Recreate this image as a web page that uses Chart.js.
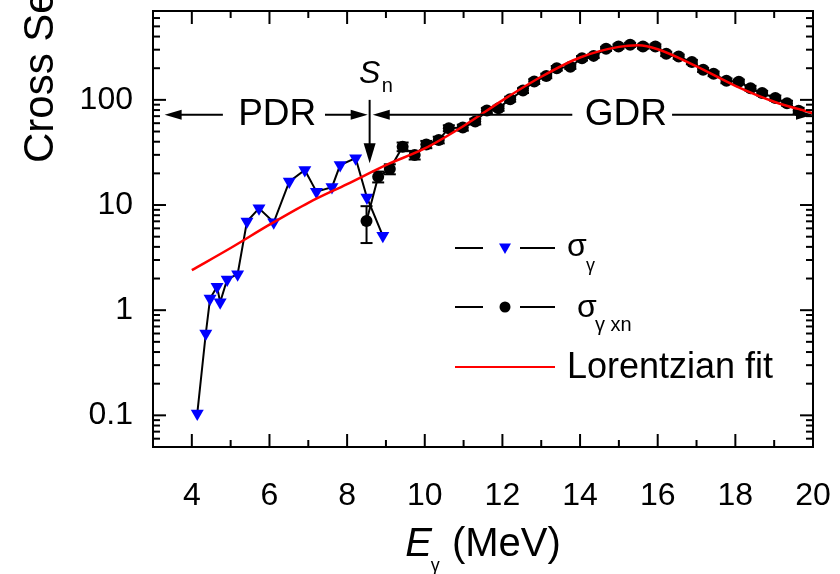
<!DOCTYPE html>
<html>
<head>
<meta charset="utf-8">
<script src="https://cdn.jsdelivr.net/npm/chart.js@4.4.0/dist/chart.umd.min.js"></script>
<style>
  html, body { margin: 0; padding: 0; background: #fff; }
  canvas { display: block; }
</style>
</head>
<body>
<canvas id="gdrChart" width="840" height="574"></canvas>
<script>
const FONT = "'Liberation Sans', Arial, sans-serif";

// sigma_gamma below Sn (blue triangles)
const gammaE = [4.14, 4.36, 4.47, 4.65, 4.73, 4.91, 5.18, 5.42, 5.73, 6.11, 6.51, 6.91, 7.21, 7.61, 7.82, 8.22, 8.51, 8.92];
const gammaSigma = [0.104, 0.60, 1.29, 1.67, 1.19, 1.96, 2.2, 6.97, 9.3, 6.86, 16.7, 21.5, 13.4, 14.8, 24, 27.9, 11.8, 5.1];

// sigma_gamma,xn above Sn (black circles) with error bars
const xnE = [8.50, 8.80, 9.10, 9.43, 9.74, 10.04, 10.36, 10.62, 10.98, 11.30, 11.60, 11.90, 12.20, 12.53, 12.82, 13.13, 13.40, 13.75, 14.05, 14.35, 14.67, 14.99, 15.29, 15.62, 15.94, 16.22, 16.54, 16.88, 17.17, 17.44, 17.77, 18.09, 18.39, 18.69, 19.03, 19.33, 19.63];
const xnSigma = [7.05, 18.6, 22.0, 35.9, 29.9, 37.7, 41.6, 53.8, 54.5, 62.2, 79.1, 83.4, 101.6, 122.7, 149.5, 169, 200, 207, 249, 262, 306, 322, 334, 322, 322, 274, 258, 229, 193, 177, 152, 149, 129, 116, 104, 93, 79];
const xnErr = [2.7, 2.2, 2.4, 3.4, 2.8, 3.0, 3.0, 3.5, 3.5, 3.8, 4.5, 4.6, 5.5, 6.5, 7.8, 8.5, 10, 10, 12, 12, 14, 15, 15, 15, 15, 13, 12, 11, 9, 9, 8, 7, 7, 6, 6, 5, 5];

// Lorentzian fit (red line)
const fitE = [4.0, 5.0, 6.0, 7.0, 8.0, 9.0, 10.0, 11.0, 12.0, 13.0, 14.0, 15.0, 15.5, 16.0, 17.0, 18.0, 19.0, 20.0];
const fitSigma = [2.4, 3.9, 6.5, 10.5, 15.8, 24, 34.5, 56.5, 99, 166, 253, 319, 330, 303, 208, 136, 96, 74.6];

// axes
const xTickLabels = [4, 6, 8, 10, 12, 14, 16, 18, 20];
const xMinorTicks = [5, 7, 9, 11, 13, 15, 17, 19];
const yTickLabels = [0.1, 1, 10, 100];

// annotations, in data units
const arrowSigma = 72;
const snE = 8.58;
const pdrNote = { tip: 3.3, lineEnd: 4.8, textE: 6.2, lineStart: 7.43, tipRight: 8.53 };
const gdrNote = { tip: 8.66, lineEnd: 13.8, textE: 15.18, lineStart: 16.37, tipRight: 20.0 };

function pts(xs, ys) {
    return xs.map((x, i) => ({ x: x, y: ys[i] }));
}

function arrowHead(ctx, x, y, dx, dy, len, half) {
    ctx.beginPath();
    ctx.moveTo(x, y);
    ctx.lineTo(x - dx * len - dy * half, y - dy * len + dx * half);
    ctx.lineTo(x - dx * len + dy * half, y - dy * len - dx * half);
    ctx.closePath();
    ctx.fill();
}

function line(ctx, x1, y1, x2, y2) {
    ctx.beginPath();
    ctx.moveTo(x1, y1);
    ctx.lineTo(x2, y2);
    ctx.stroke();
}

const decorations = {
    id: "decorations",
    beforeDatasetsDraw(chart) {
        // error bars
        const ctx = chart.ctx, xs = chart.scales.x, ys = chart.scales.y;
        ctx.save();
        ctx.strokeStyle = "#000";
        ctx.lineWidth = 2;
        xnE.forEach((e, i) => {
            const x = xs.getPixelForValue(e);
            const yt = ys.getPixelForValue(xnSigma[i] + xnErr[i]);
            const yb = ys.getPixelForValue(xnSigma[i] - xnErr[i]);
            line(ctx, x, yt, x, yb);
            line(ctx, x - 6, yt, x + 6, yt);
            line(ctx, x - 6, yb, x + 6, yb);
        });
        ctx.restore();
    },
    afterDatasetsDraw(chart) {
        const ctx = chart.ctx, xs = chart.scales.x, ys = chart.scales.y;
        const ay = ys.getPixelForValue(arrowSigma);
        ctx.save();
        ctx.strokeStyle = "#000";
        ctx.fillStyle = "#000";
        ctx.lineWidth = 2;
        [pdrNote, gdrNote].forEach((n, k) => {
            const t1 = xs.getPixelForValue(n.tip);
            const e1 = xs.getPixelForValue(n.lineEnd);
            const s2 = xs.getPixelForValue(n.lineStart);
            const t2 = xs.getPixelForValue(n.tipRight);
            line(ctx, t1 + 10, ay, e1, ay);
            arrowHead(ctx, t1, ay, -1, 0, 17, 5);
            line(ctx, s2, ay, t2 - 10, ay);
            arrowHead(ctx, t2, ay, 1, 0, 17, 5);
            ctx.font = "37px " + FONT;
            ctx.textAlign = "center";
            ctx.textBaseline = "alphabetic";
            ctx.fillText(k === 0 ? "PDR" : "GDR", xs.getPixelForValue(n.textE), ay + 10);
        });
        // Sn arrow
        const sx = xs.getPixelForValue(snE);
        const yTop = ys.getPixelForValue(100);
        const yTip = ys.getPixelForValue(25);
        line(ctx, sx, yTop, sx, yTip - 12);
        arrowHead(ctx, sx, yTip, 0, 1, 20, 6);
        ctx.font = "italic 32px " + FONT;
        ctx.textAlign = "center";
        ctx.fillText("S", sx, 83);
        ctx.font = "20px " + FONT;
        ctx.textAlign = "left";
        ctx.fillText("n", sx + 12, 92);
        ctx.restore();
    },
    afterDraw(chart) {
        const ctx = chart.ctx, a = chart.chartArea, xs = chart.scales.x, ys = chart.scales.y;
        ctx.save();
        ctx.strokeStyle = "#000";
        ctx.fillStyle = "#000";
        ctx.lineWidth = 2;
        ctx.strokeRect(a.left, a.top, a.right - a.left, a.bottom - a.top);

        // x ticks, inside on bottom and top
        const xt = (v, len) => {
            const x = xs.getPixelForValue(v);
            line(ctx, x, a.bottom, x, a.bottom - len);
            line(ctx, x, a.top, x, a.top + len);
        };
        xTickLabels.forEach(v => xt(v, 13));
        xMinorTicks.forEach(v => xt(v, 7));

        // y ticks, inside on left and right
        const yt = (v, len) => {
            const y = ys.getPixelForValue(v);
            line(ctx, a.left, y, a.left + len, y);
            line(ctx, a.right, y, a.right - len, y);
        };
        yTickLabels.forEach(v => yt(v, 13));
        [0.01, 0.1, 1, 10, 100].forEach(d => {
            for (let m = 2; m <= 9; m++) {
                const v = d * m;
                if (v > ys.min && v < ys.max) yt(v, 7);
            }
        });

        // axis titles
        ctx.textBaseline = "alphabetic";
        ctx.textAlign = "left";
        const cx = (a.left + a.right) / 2;
        ctx.font = "italic 40px " + FONT;
        const wE = ctx.measureText("E").width;
        ctx.font = "18px " + FONT;
        const wG = ctx.measureText("\u03b3").width;
        ctx.font = "40px " + FONT;
        const wM = ctx.measureText(" (MeV)").width;
        let tx = cx - (wE + wG + wM) / 2;
        ctx.font = "italic 40px " + FONT;
        ctx.fillText("E", tx, 556);
        ctx.font = "18px " + FONT;
        ctx.fillText("\u03b3", tx + wE - 1, 571);
        ctx.font = "40px " + FONT;
        ctx.fillText(" (MeV)", tx + wE + wG, 556);

        ctx.save();
        ctx.translate(53, 163);
        ctx.rotate(-Math.PI / 2);
        ctx.font = "42px " + FONT;
        ctx.fillText("Cross Section (mb)", 0, 0);
        ctx.restore();

        // legend
        const lx1 = 455, lx2 = 483, lx3 = 520, lx4 = 555, mx = 505;
        ctx.lineWidth = 2;
        // row 1
        let ly = 248;
        line(ctx, lx1, ly, lx2, ly);
        line(ctx, lx3, ly, lx4, ly);
        ctx.fillStyle = "#0000ff";
        ctx.beginPath();
        ctx.moveTo(mx - 6, ly - 4.5);
        ctx.lineTo(mx + 6, ly - 4.5);
        ctx.lineTo(mx, ly + 6);
        ctx.closePath();
        ctx.fill();
        ctx.fillStyle = "#000";
        ctx.font = "32px " + FONT;
        ctx.fillText("\u03c3", 567, 256);
        ctx.font = "18px " + FONT;
        ctx.fillText("\u03b3", 586, 271);
        // row 2
        ly = 307;
        line(ctx, lx1, ly, lx2, ly);
        line(ctx, lx3, ly, lx4, ly);
        ctx.beginPath();
        ctx.arc(mx, ly, 5.5, 0, Math.PI * 2);
        ctx.fill();
        ctx.font = "32px " + FONT;
        ctx.fillText("\u03c3", 577, 317);
        ctx.font = "20px " + FONT;
        ctx.fillText("\u03b3 xn", 595, 331);
        // row 3
        ly = 367;
        ctx.strokeStyle = "#ff0000";
        line(ctx, lx1, ly, lx4, ly);
        ctx.font = "36px " + FONT;
        ctx.fillText("Lorentzian fit", 567, 378);
        ctx.restore();
    }
};

new Chart(document.getElementById("gdrChart"), {
    type: "line",
    data: {
        datasets: [
            {
                label: "Lorentzian fit",
                data: pts(fitE, fitSigma),
                borderColor: "#ff0000",
                borderWidth: 2.5,
                pointRadius: 0,
                cubicInterpolationMode: "monotone",
                order: 0
            },
            {
                label: "\u03c3\u03b3 xn",
                data: pts(xnE, xnSigma),
                borderColor: "#000",
                borderWidth: 2,
                pointStyle: "circle",
                pointRadius: 6,
                pointBackgroundColor: "#000",
                pointBorderColor: "#000",
                pointBorderWidth: 0,
                tension: 0,
                order: 1
            },
            {
                label: "\u03c3\u03b3",
                data: pts(gammaE, gammaSigma),
                borderColor: "#000",
                borderWidth: 2,
                pointStyle: "triangle",
                rotation: 180,
                pointRadius: 7.5,
                pointBackgroundColor: "#0000ff",
                pointBorderColor: "#0000ff",
                pointBorderWidth: 0,
                tension: 0,
                order: 2
            }
        ]
    },
    options: {
        responsive: false,
        animation: false,
        layout: { padding: { top: 11, right: 27, left: 0, bottom: 0 } },
        plugins: {
            legend: { display: false },
            tooltip: { enabled: false }
        },
        scales: {
            x: {
                type: "linear",
                min: 3,
                max: 20,
                afterBuildTicks: scale => { scale.ticks = xTickLabels.map(v => ({ value: v })); },
                afterFit: scale => { scale.height = 127; scale.paddingLeft = 0; scale.paddingRight = 0; },
                ticks: {
                    autoSkip: false,
                    maxRotation: 0,
                    padding: 30,
                    color: "#000",
                    font: { family: FONT, size: 32 },
                    callback: v => String(v)
                },
                grid: { display: false, drawTicks: false },
                border: { display: false }
            },
            y: {
                type: "logarithmic",
                min: 0.05,
                max: 700,
                afterBuildTicks: scale => { scale.ticks = yTickLabels.map(v => ({ value: v })); },
                afterFit: scale => { scale.width = 153; scale.paddingTop = 0; scale.paddingBottom = 0; },
                ticks: {
                    autoSkip: false,
                    padding: 20,
                    color: "#000",
                    font: { family: FONT, size: 32 },
                    callback: v => String(v)
                },
                grid: { display: false, drawTicks: false },
                border: { display: false }
            }
        }
    },
    plugins: [decorations]
});
</script>
</body>
</html>
